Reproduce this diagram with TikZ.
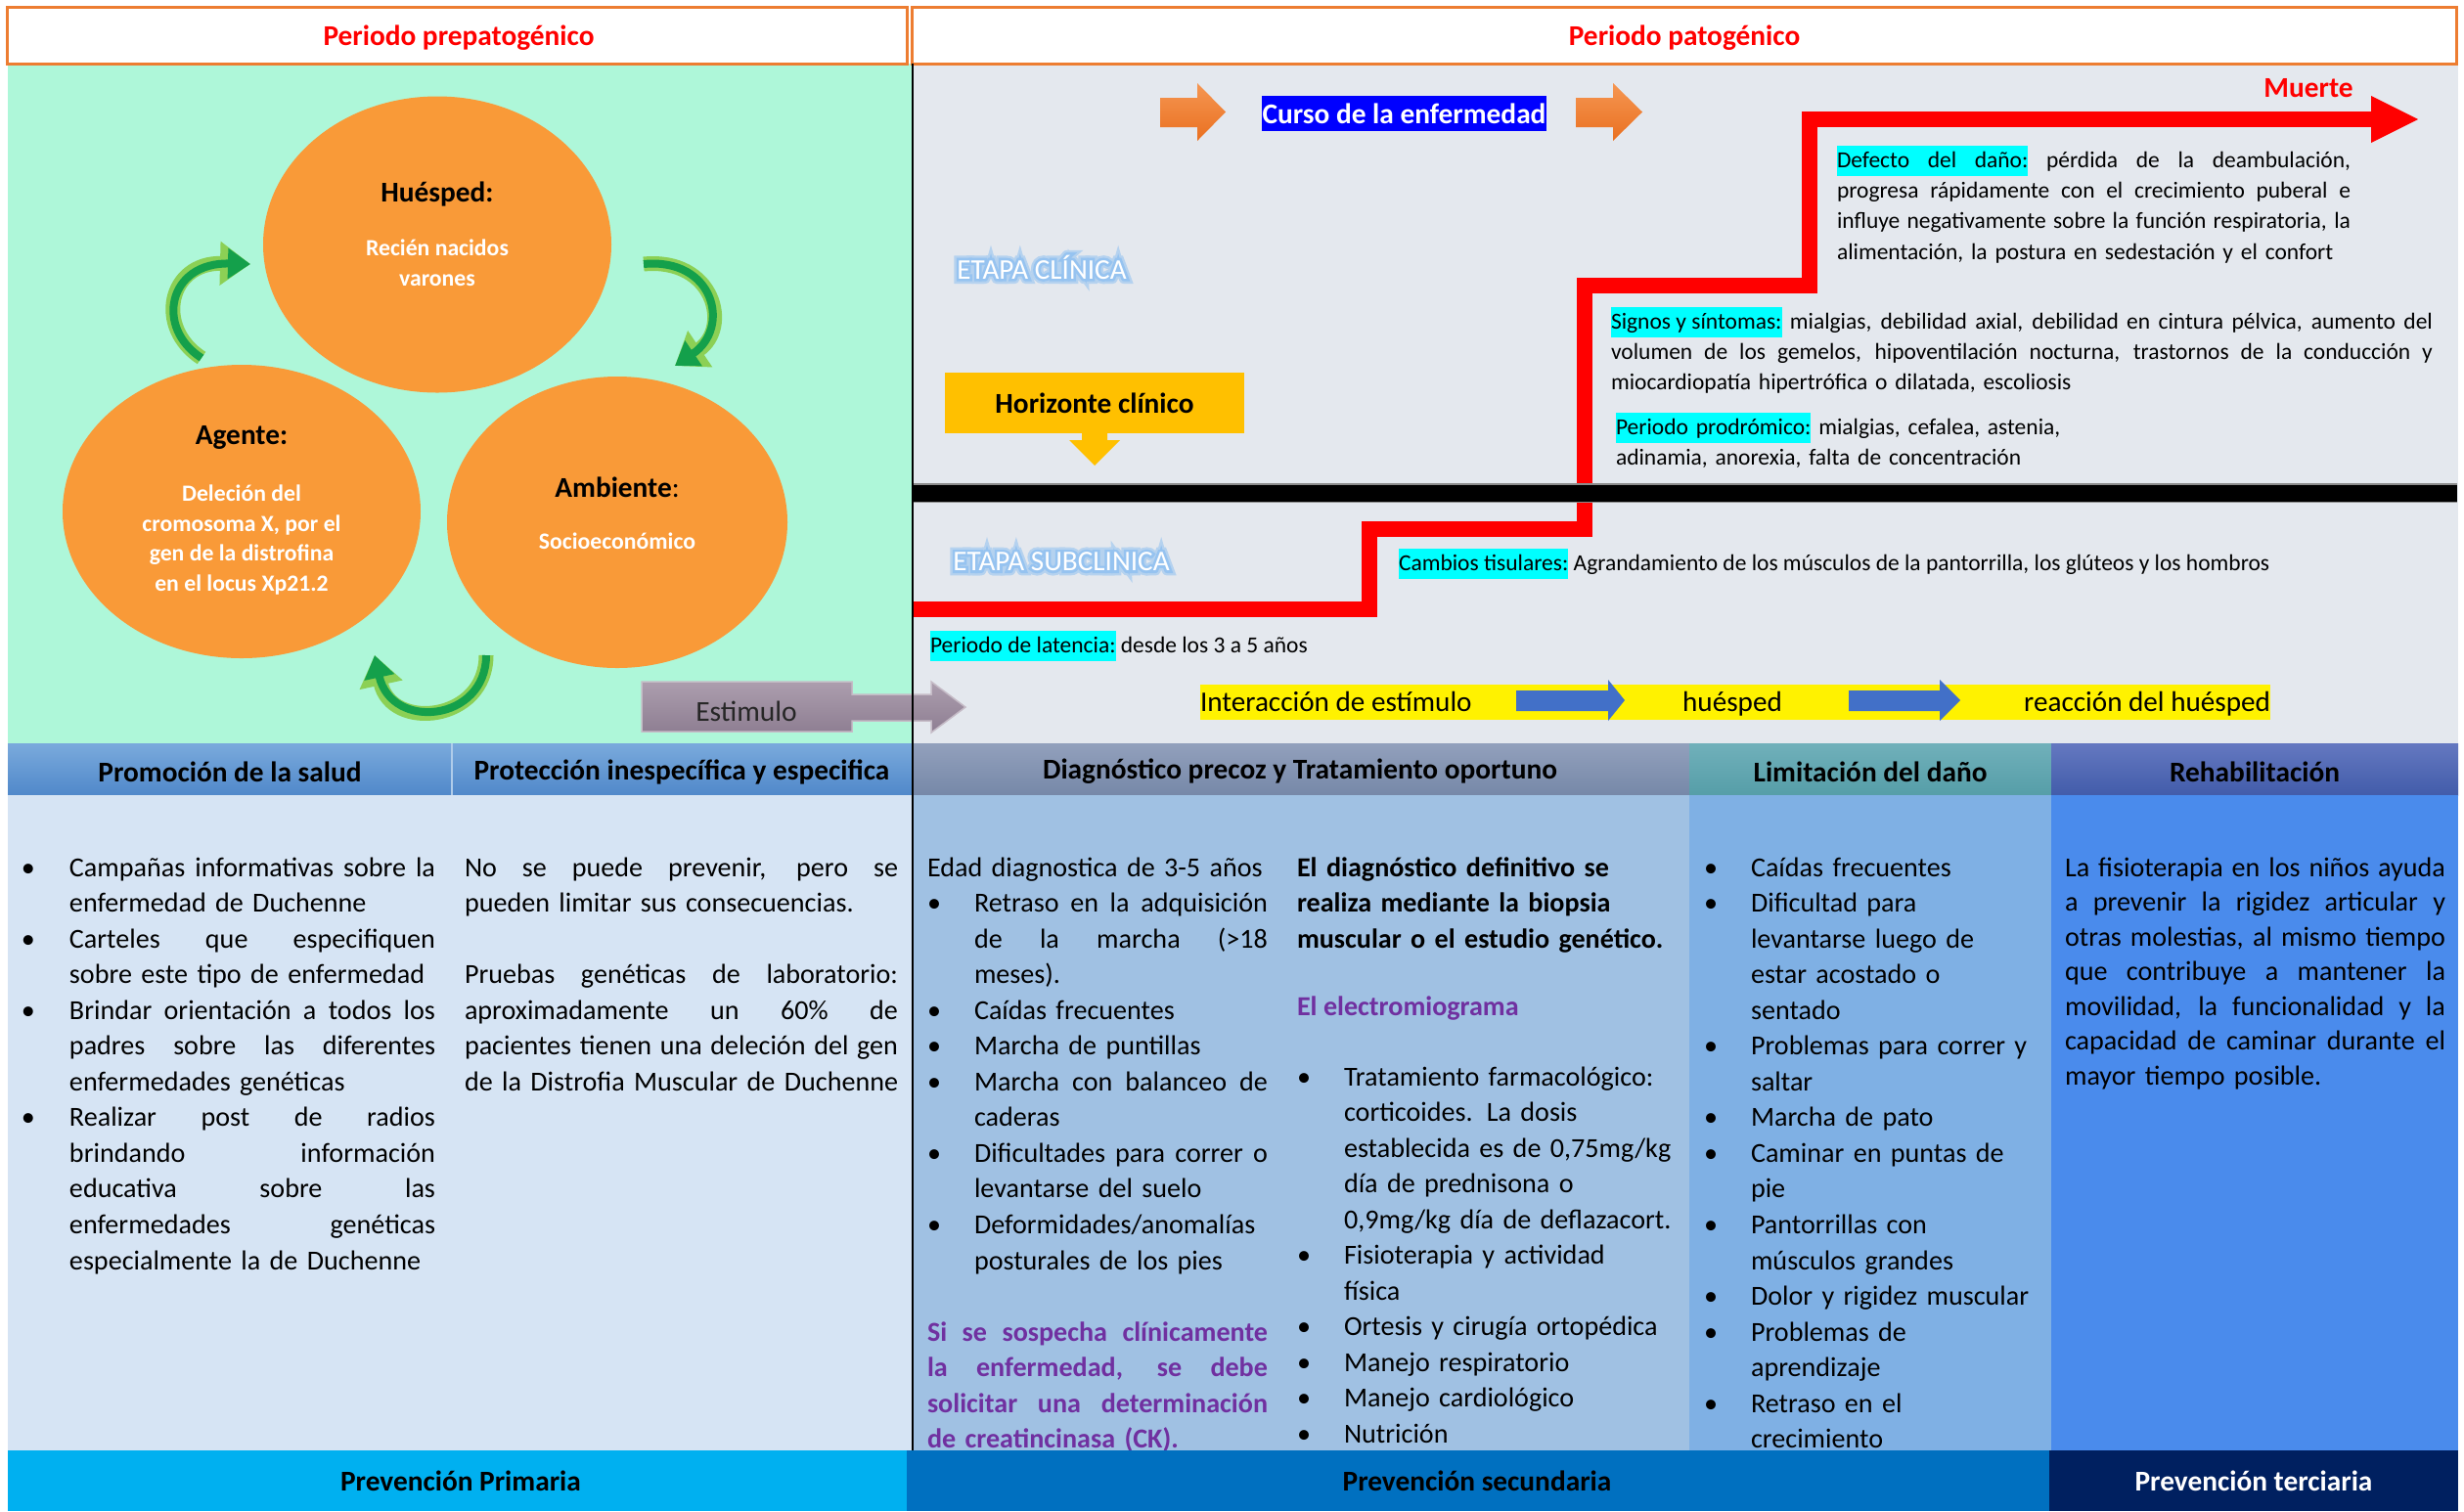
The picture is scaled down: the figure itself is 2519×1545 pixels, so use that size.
\documentclass[tikz,border=0pt]{standalone}
\usepackage{fontspec}
\setmainfont{Carlito}
\newfontfamily\glowfontA[FakeBold=34]{Carlito}
\newfontfamily\glowfontB[FakeBold=18]{Carlito}
\usetikzlibrary{arrows.meta,shapes.geometric,calc}
\definecolor{mint}{RGB}{174,247,217}
\definecolor{pgray}{RGB}{228,232,238}
\definecolor{orline}{RGB}{237,125,49}
\definecolor{circor}{RGB}{249,154,56}
\definecolor{garr}{RGB}{20,160,75}
\definecolor{garrl}{RGB}{140,208,85}
\definecolor{cyanhl}{RGB}{0,255,255}
\definecolor{hzy}{RGB}{255,192,0}
\definecolor{purp}{RGB}{112,48,160}
\definecolor{bodya}{RGB}{214,228,244}
\definecolor{bodyc}{RGB}{160,193,227}
\definecolor{bodyd}{RGB}{127,176,228}
\definecolor{bodye}{RGB}{74,139,236}
\definecolor{hat}{RGB}{122,170,220}
\definecolor{hab}{RGB}{80,136,202}
\definecolor{hct}{RGB}{146,160,188}
\definecolor{hcb}{RGB}{118,136,168}
\definecolor{hdt}{RGB}{112,176,186}
\definecolor{hdb}{RGB}{86,158,168}
\definecolor{het}{RGB}{100,120,192}
\definecolor{heb}{RGB}{66,92,170}
\definecolor{fpri}{RGB}{0,176,240}
\definecolor{fsec}{RGB}{0,112,192}
\definecolor{fter}{RGB}{0,32,96}
\definecolor{arrblue}{RGB}{66,112,200}
\definecolor{glowc}{RGB}{150,195,240}
\definecolor{estt}{RGB}{172,158,174}
\definecolor{estb}{RGB}{142,126,146}
\definecolor{ort}{RGB}{245,150,82}
\definecolor{orb}{RGB}{234,112,32}
\newcommand\fbody{\fontsize{8.0}{10.4}\selectfont}
\newcommand\fsm{\fontsize{6.68}{8.95}\selectfont}
\newcommand\fhd{\fontsize{8.35}{10}\selectfont\bfseries}
\newcommand\fcw{\fontsize{6.75}{8.8}\selectfont\bfseries}
\newcommand\fmid{\fontsize{8.3}{10}\selectfont}
\newlength\bind
\newcommand\spc{\spaceskip=0.226em plus 1fil minus 0.06em\relax}
\newcommand\Jl[1]{\makebox[\hsize][s]{\spc#1}}
\newcommand\Bj[1]{\makebox[\bind][l]{\textbullet}\makebox[\dimexpr\hsize-\bind\relax][s]{\spc#1}}
\newcommand\Bl[1]{\makebox[\bind][l]{\textbullet}\mbox{#1}}
\newcommand\Cl[1]{\hspace*{\bind}\mbox{#1}}
\newcommand\Cj[1]{\hspace*{\bind}\makebox[\dimexpr\hsize-\bind\relax][s]{\spc#1}}
\newcommand\hlc[1]{{\setlength{\fboxsep}{0pt}\colorbox{cyanhl}{\strut#1}}}
\newcommand\hlsp{{\color{cyanhl}\leaders\vrule height 0.7\baselineskip depth 0.3\baselineskip\hskip 0.226em plus 1fil minus 0.06em\relax}}
\tikzset{garrowo/.style={draw=garrl, line width=1.5mm, -{Triangle[length=3.1mm,width=4.3mm]}},
  garrowi/.style={draw=garr, line width=0.8mm, -{Triangle[length=2.3mm,width=3.0mm]}},
  txtblock/.style={anchor=base west, align=left},
  glowa/.style={text=glowc!60!pgray, font=\glowfontA\fmid},
  glowb/.style={text=glowc, font=\glowfontB\fmid},
  stagetxt/.style={text=white, font=\fmid}}
\begin{document}
\begin{tikzpicture}[x=0.1mm, y=-0.1mm, every node/.style={inner sep=0pt, outer sep=0pt}]
\fill[white] (0,0) rectangle (2519,1545);
\useasboundingbox (0,0) rectangle (2519,1545);
% regions
\fill[mint] (8,65) rectangle (932,760);
\fill[pgray] (932,65) rectangle (2513,760);
% top headers
\node[draw=orline, line width=0.3mm, fill=white, minimum width=92mm, minimum height=5.8mm, anchor=north west] (prepat) at (7.5,7) {};
\node[draw=orline, line width=0.3mm, fill=white, minimum width=157.9mm, minimum height=5.8mm, anchor=north west] (pat) at (932,7) {};
\node[font=\fhd, text=red] (prepatt) at (469,39) {Periodo prepatogénico};
\node[font=\fhd, text=red] (patt) at (1722,39) {Periodo patogénico};
% circles
\node[ellipse, fill=circor, minimum width=35.6mm, minimum height=30.3mm] (hues) at (447,250) {};
\node[ellipse, fill=circor, minimum width=36.6mm, minimum height=30.0mm] (agen) at (247,523) {};
\node[ellipse, fill=circor, minimum width=34.8mm, minimum height=29.8mm] (ambi) at (631,534) {};
\node[font=\fhd] (huest) at (447,198) {Huésped:};
\node[font=\fcw, text=white, align=center] (huesb) at (447,269) {Recién nacidos\\varones};
\node[font=\fhd] (agent) at (247,447) {Agente:};
\node[font=\fcw, text=white, align=center] (agenb) at (247,552) {Deleción del\\cromosoma X, por el\\gen de la distrofina\\en el locus Xp21.2};
\node[font=\fhd] (ambt) at (631,498) {Ambiente\textmd{:}};
\node[font=\fcw, text=white] (ambb) at (631,553) {Socioeconómico};
% green cycle arrows
\draw[garrowo] (206,366) .. controls (158,335) and (172,268) .. (256,270);
\draw[garrowi] (206,366) .. controls (158,335) and (172,268) .. (256,270);
\draw[garrowo] (658,270) .. controls (730,263) and (748,335) .. (690,374);
\draw[garrowi] (658,270) .. controls (730,263) and (748,335) .. (690,374);
\draw[garrowo] (497,670) .. controls (497,738) and (400,748) .. (383,670);
\draw[garrowi] (497,670) .. controls (497,738) and (400,748) .. (383,670);
% stimulus arrow
\path[top color=estt, bottom color=estb, draw=estt!70!white, line width=0.15mm] (656,697) -- (871,697) -- (871,710) -- (952,710) -- (952,697) -- (987,723) -- (952,749) -- (952,737) -- (871,737) -- (871,748) -- (656,748) -- cycle;
\node[font=\fontsize{8.4}{10}\selectfont, text=black!85] (estim) at (763,727) {Estimulo};
% course of disease
\path[top color=ort, bottom color=orb] (1186,100) -- (1224,100) -- (1224,85) -- (1253,114.5) -- (1224,144) -- (1224,130) -- (1186,130) -- cycle;
\path[top color=ort, bottom color=orb] (1611,100) -- (1649,100) -- (1649,85) -- (1679,114.5) -- (1649,144) -- (1649,130) -- (1611,130) -- cycle;
\node[fill=blue, text=white, font=\fhd, minimum width=29.1mm, minimum height=3.6mm] (curso) at (1435.5,116) {Curso de la enfermedad};
\node[font=\fhd, text=red] (muerte) at (2360,90) {Muerte};
% stages (white text with light blue glow)
\node[glowa] (etclga) at (1065,273) {ETAPA CLÍNICA};
\node[glowb] (etclgb) at (1065,273) {ETAPA CLÍNICA};
\node[stagetxt] (etcl) at (1065,273) {ETAPA CLÍNICA};
\node[glowa] (etsubga) at (1085,574) {ETAPA SUBCLINICA};
\node[glowb] (etsubgb) at (1085,574) {ETAPA SUBCLINICA};
\node[stagetxt] (etsub) at (1085,574) {ETAPA SUBCLINICA};
% horizonte
\node[fill=hzy, minimum width=30.6mm, minimum height=6.2mm, font=\fhd] (horiz) at (1119,412) {Horizonte clínico};
\fill[hzy] (1106,442) -- (1132,442) -- (1132,450) -- (1145,450) -- (1119,476) -- (1093,450) -- (1106,450) -- cycle;
% red course line
\draw[red, line width=1.6mm] (932,623) -- (1400,623) -- (1400,541) -- (1620,541) -- (1620,292) -- (1850,292) -- (1850,122) -- (2425,122);
\fill[red] (2424,98) -- (2472,122) -- (2424,146) -- cycle;
% black clinical horizon bar
\draw[black!45, line width=1.95mm] (932,504) -- (2512,504);
\draw[black, line width=1.7mm] (932,504) -- (2512,504);
% text blocks
\node[txtblock, text width=52.5mm, font=\fsm] (defecto) at (1878,171) {%
\Jl{\hlc{Defecto}\hlsp\hlc{del}\hlsp\hlc{daño:} pérdida de la deambulación,}\\
\Jl{progresa rápidamente con el crecimiento puberal e}\\
\Jl{influye negativamente sobre la función respiratoria, la}\\
\mbox{alimentación, la postura en sedestación y el confort}};
\node[txtblock, text width=84mm, font=\fsm] (signos) at (1647,336) {%
\Jl{\hlc{Signos y síntomas:} mialgias, debilidad axial, debilidad en cintura pélvica, aumento del}\\
\Jl{volumen de los gemelos, hipoventilación nocturna, trastornos de la conducción y}\\
\mbox{miocardiopatía hipertrófica o dilatada, escoliosis}};
\node[txtblock, text width=60mm, font=\fsm] (prodro) at (1652,444) {%
\mbox{\hlc{Periodo prodrómico:} mialgias, cefalea, astenia,}\\
\mbox{adinamia, anorexia, falta de concentración}};
\node[txtblock, font=\fsm] (cambios) at (1430,583) {\hlc{Cambios tisulares:} Agrandamiento de los músculos de la pantorrilla, los glúteos y los hombros};
\node[txtblock, font=\fsm] (latencia) at (951,667) {\hlc{Periodo de latencia:} desde los 3 a 5 años};
% interaction row
\fill[yellow] (1227,700) rectangle (2321,736);
\fill[arrblue] (1550,706) -- (1644,706) -- (1644,695) -- (1661,716) -- (1644,737) -- (1644,727) -- (1550,727) -- cycle;
\fill[arrblue] (1890,706) -- (1983,706) -- (1983,695) -- (2004,716) -- (1983,737) -- (1983,727) -- (1890,727) -- cycle;
\node[font=\fmid, anchor=base west] (inter) at (1227,727) {Interacción de estímulo};
\node[font=\fmid, anchor=base] (huesp2) at (1771,727) {huésped};
\node[font=\fmid, anchor=base east] (reac) at (2321,727) {reacción del huésped};
% bottom table headers
\path[top color=hat, bottom color=hab] (8,760) rectangle (932,813);
\draw[hat!60!white, line width=0.15mm] (462,760) -- (462,813);
\path[top color=hct, bottom color=hcb] (932,760) rectangle (1727,813);
\path[top color=hdt, bottom color=hdb] (1727,760) rectangle (2097,813);
\path[top color=het, bottom color=heb] (2097,760) rectangle (2513,813);
\node[font=\fhd] (h1) at (235,789) {Promoción de la salud};
\node[font=\fhd] (h2) at (697,789) {Protección inespecífica y especifica};
\node[font=\fhd] (h3) at (1329,789) {Diagnóstico precoz y Tratamiento oportuno};
\node[font=\fhd] (h4) at (1912,789) {Limitación del daño};
\node[font=\fhd] (h5) at (2305,789) {Rehabilitación};
% bodies
\fill[bodya] (8,813) rectangle (932,1483);
\fill[bodyc] (932,813) rectangle (1727,1483);
\fill[bodyd] (1727,813) rectangle (2097,1483);
\fill[bodye] (2097,813) rectangle (2513,1483);
\node[txtblock, text width=42.3mm, font=\fbody] (c1) at (22,896) {\setlength\bind{4.9mm}%
\Bj{Campañas informativas sobre la}\\
\Cl{enfermedad de Duchenne}\\
\Bj{Carteles que especifiquen}\\
\Cl{sobre este tipo de enfermedad}\\
\Bj{Brindar orientación a todos los}\\
\Cj{padres sobre las diferentes}\\
\Cl{enfermedades genéticas}\\
\Bj{Realizar post de radios}\\
\Cj{brindando información}\\
\Cj{educativa sobre las}\\
\Cj{enfermedades genéticas}\\
\Cl{especialmente la de Duchenne}};
\node[txtblock, text width=44.3mm, font=\fbody] (c2) at (475,896) {%
\Jl{No se puede prevenir, pero se}\\
\mbox{pueden limitar sus consecuencias.}\\[\baselineskip]
\Jl{Pruebas genéticas de laboratorio:}\\
\Jl{aproximadamente un 60\% de}\\
\Jl{pacientes tienen una deleción del gen}\\
\mbox{de la Distrofia Muscular de Duchenne}};
\node[txtblock, text width=34.8mm, font=\fbody] (c3l) at (948,896) {\setlength\bind{4.8mm}%
\mbox{Edad diagnostica de 3-5 años}\\
\Bj{Retraso en la adquisición}\\
\Cj{de la marcha (>18}\\
\Cl{meses).}\\
\Bl{Caídas frecuentes}\\
\Bl{Marcha de puntillas}\\
\Bj{Marcha con balanceo de}\\
\Cl{caderas}\\
\Bj{Dificultades para correr o}\\
\Cl{levantarse del suelo}\\
\Bl{Deformidades/anomalías}\\
\Cl{posturales de los pies}\\[\baselineskip]
\color{purp}\bfseries
\Jl{Si se sospecha clínicamente}\\
\Jl{la enfermedad, se debe}\\
\Jl{solicitar una determinación}\\
\mbox{de creatincinasa (CK).}};
\node[txtblock, text width=40mm, font=\fbody\bfseries] (c3r) at (1326,896) {\mbox{El diagnóstico definitivo se}\\\mbox{realiza mediante la biopsia}\\\mbox{muscular o el estudio genético.}};
\node[txtblock, font=\fbody\bfseries, text=purp] (emg) at (1326,1038) {El electromiograma};
\node[txtblock, text width=38.5mm, font=\fbody] (c3rb) at (1326,1110) {\setlength\bind{4.8mm}%
\Bl{Tratamiento farmacológico:}\\
\Cl{corticoides. La dosis}\\
\Cl{establecida es de 0,75mg/kg}\\
\Cl{día de prednisona o}\\
\Cl{0,9mg/kg día de deflazacort.}\\
\Bl{Fisioterapia y actividad}\\
\Cl{física}\\
\Bl{Ortesis y cirugía ortopédica}\\
\Bl{Manejo respiratorio}\\
\Bl{Manejo cardiológico}\\
\Bl{Nutrición}};
\node[txtblock, text width=35.3mm, font=\fbody] (c4) at (1742,896) {\setlength\bind{4.8mm}%
\Bl{Caídas frecuentes}\\
\Bl{Dificultad para}\\
\Cl{levantarse luego de}\\
\Cl{estar acostado o}\\
\Cl{sentado}\\
\Bl{Problemas para correr y}\\
\Cl{saltar}\\
\Bl{Marcha de pato}\\
\Bl{Caminar en puntas de}\\
\Cl{pie}\\
\Bl{Pantorrillas con}\\
\Cl{músculos grandes}\\
\Bl{Dolor y rigidez muscular}\\
\Bl{Problemas de}\\
\Cl{aprendizaje}\\
\Bl{Retraso en el}\\
\Cl{crecimiento}};
\node[txtblock, text width=38.9mm, font=\fontsize{8.0}{10.1}\selectfont] (c5) at (2111,896) {%
\Jl{La fisioterapia en los niños ayuda}\\
\Jl{a prevenir la rigidez articular y}\\
\Jl{otras molestias, al mismo tiempo}\\
\Jl{que contribuye a mantener la}\\
\Jl{movilidad, la funcionalidad y la}\\
\Jl{capacidad de caminar durante el}\\
\mbox{mayor tiempo posible.}};
% vertical divider
\draw[black, line width=0.25mm] (933,65) -- (933,1483);
% footers
\fill[fpri] (8,1483) rectangle (927,1545);
\fill[fsec] (927,1483) rectangle (2095,1545);
\fill[fter] (2095,1483) rectangle (2513,1545);
\node[font=\fhd] (fp) at (471,1514) {Prevención Primaria};
\node[font=\fhd] (fs) at (1510,1514) {Prevención secundaria};
\node[font=\fhd, text=white] (ft) at (2304,1514) {Prevención terciaria};
\end{tikzpicture}
\end{document}
